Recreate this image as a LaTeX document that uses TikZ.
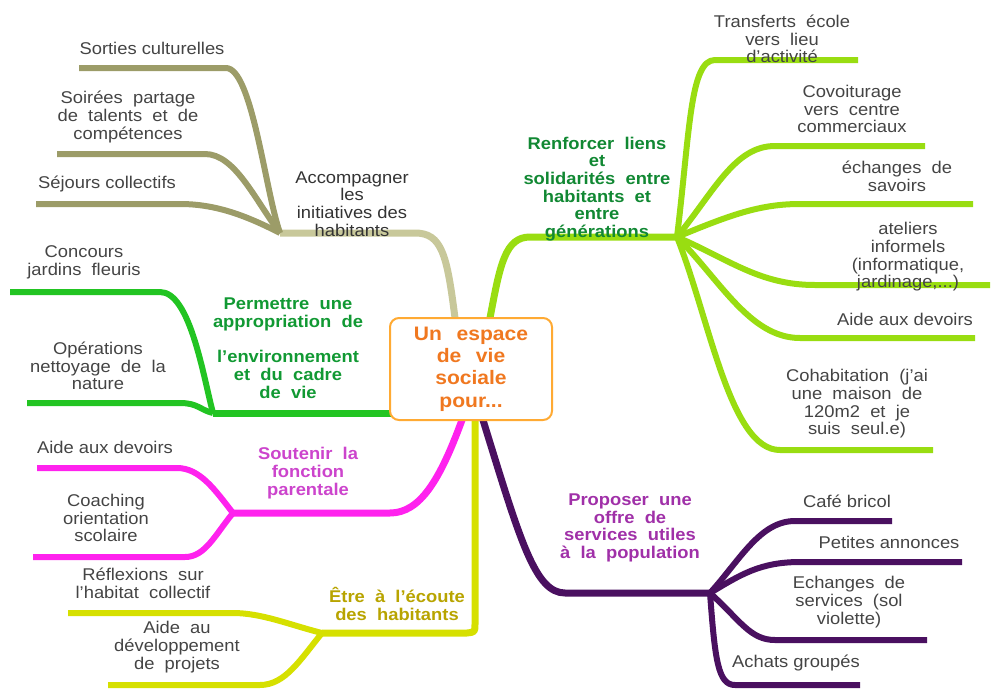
\documentclass[tikz,border=0pt]{standalone}
\usepackage{fontspec}
\setmainfont{Liberation Sans}[FakeStretch=1.08]
\newcommand\wideA{\spaceskip 0.6em\relax}
\newcommand\wideB{\spaceskip 0.75em\relax}
\definecolor{khmain}{HTML}{C8C89A}
\definecolor{khsub}{HTML}{9C9C68}
\definecolor{grline}{HTML}{22C422}
\definecolor{grtext}{HTML}{119933}
\definecolor{mgline}{HTML}{FF22EE}
\definecolor{mgtext}{HTML}{CC44CC}
\definecolor{ylline}{HTML}{D6E000}
\definecolor{yltext}{HTML}{B8A400}
\definecolor{lgline}{HTML}{99DD11}
\definecolor{lgtext}{HTML}{118833}
\definecolor{puline}{HTML}{4A1060}
\definecolor{putext}{HTML}{A030A8}
\definecolor{orbord}{HTML}{FFAA33}
\definecolor{ortext}{HTML}{F07820}
\definecolor{txtgray}{HTML}{444444}
\tikzset{
  leaf/.style={font=\fontsize{17}{17.7}\selectfont, text=txtgray, align=center, inner sep=0pt},
  jw/.style={font=\fontsize{17}{17.7}\selectfont\wideA},
  topic/.style={font=\bfseries\fontsize{17}{17.7}\selectfont\wideA, align=center, inner sep=0pt},
  branch/.style={line width=7pt, line join=round},
  twig/.style={line width=6pt, line join=round},
  centerbox/.style={draw=orbord, line width=2pt, rounded corners=9pt, fill=white,
    minimum width=162pt, minimum height=102pt, text=ortext, align=center,
    font=\bfseries\fontsize{19.5}{22.3}\selectfont\wideB, inner sep=2pt}
}
\begin{document}
\begin{tikzpicture}[x=1pt,y=-1pt]
\useasboundingbox (0,0) rectangle (997,689);

% hubs
\coordinate (kh) at (280,233);
\coordinate (gh) at (213,413);
\coordinate (mh) at (233,513);
\coordinate (yh) at (322,633);
\coordinate (lh) at (677,237);
\coordinate (ph) at (710,593);

% attachment points on the centre box
\coordinate (ka) at (455,318);
\coordinate (ga) at (391,413);
\coordinate (ma) at (462,420);
\coordinate (ya) at (475,420);
\coordinate (la) at (490,318);
\coordinate (pa) at (483,420);

% leaf ends
\coordinate (e1) at (79,68);
\coordinate (e2) at (57,154);
\coordinate (e3) at (36,204);
\coordinate (e4) at (10,292);
\coordinate (e5) at (27,403);
\coordinate (e6) at (37,468);
\coordinate (e7) at (33,557);
\coordinate (e8) at (68,613);
\coordinate (e9) at (108,685);
\coordinate (f1) at (858,60);
\coordinate (f2) at (925,146);
\coordinate (f3) at (973,204);
\coordinate (f4) at (990,285);
\coordinate (f5) at (975,338);
\coordinate (f6) at (933,450);
\coordinate (g1) at (892,521);
\coordinate (g2) at (962,562);
\coordinate (g3) at (927,640);
\coordinate (g4) at (860,685);

% khaki branch
\draw[branch, khmain] (ka) .. controls (447,255) and (442,233) .. (415,233) -- (kh);
\draw[twig, khsub] (kh) .. controls (265,190) and (252,68) .. (226,68) -- (e1);
\draw[twig, khsub] (kh) .. controls (255,200) and (235,154) .. (205,154) -- (e2);
\draw[twig, khsub] (kh) .. controls (245,215) and (215,204) .. (180,204) -- (e3);

% green branch
\draw[branch, grline] (ga) -- (gh);
\draw[twig, grline] (gh) .. controls (203,375) and (190,292) .. (160,292) -- (e4);
\draw[twig, grline] (gh) .. controls (200,410) and (198,403) .. (180,403) -- (e5);

% magenta branch
\draw[branch, mgline] (ma) .. controls (440,480) and (420,513) .. (390,513) -- (mh);
\draw[twig, mgline] (mh) .. controls (215,490) and (200,468) .. (177,468) -- (e6);
\draw[twig, mgline] (mh) .. controls (215,535) and (205,557) .. (185,557) -- (e7);

% yellow branch
\draw[branch, ylline] (ya) -- (475,624) .. controls (475,632) .. (467,633) -- (yh);
\draw[twig, ylline] (yh) .. controls (290,625) and (262,613) .. (233,613) -- (e8);
\draw[twig, ylline] (yh) .. controls (300,660) and (285,685) .. (260,685) -- (e9);

% light green branch
\draw[branch, lgline] (la) .. controls (500,265) and (505,237) .. (530,237) -- (lh);
\draw[twig, lgline] (lh) .. controls (690,130) and (690,60) .. (715,60) -- (f1);
\draw[twig, lgline] (lh) .. controls (715,190) and (735,146) .. (775,146) -- (f2);
\draw[twig, lgline] (lh) .. controls (730,215) and (760,204) .. (800,204) -- (f3);
\draw[twig, lgline] (lh) .. controls (730,260) and (760,285) .. (815,285) -- (f4);
\draw[twig, lgline] (lh) .. controls (720,280) and (750,338) .. (800,338) -- (f5);
\draw[twig, lgline] (lh) .. controls (710,320) and (730,450) .. (780,450) -- (f6);

% purple branch
\draw[branch, puline] (pa) .. controls (520,540) and (535,593) .. (565,593) -- (ph);
\draw[twig, puline] (ph) .. controls (740,560) and (760,521) .. (795,521) -- (g1);
\draw[twig, puline] (ph) .. controls (740,575) and (760,562) .. (800,562) -- (g2);
\draw[twig, puline] (ph) .. controls (740,620) and (750,640) .. (775,640) -- (g3);
\draw[twig, puline] (ph) .. controls (715,660) and (718,685) .. (735,685) -- (g4);

% centre
\node[centerbox] (center) at (471,369) {Un espace\\de vie\\sociale\\pour...};

% topic labels
\node[leaf, text=black!80] (tk) at (352,204) {Accompagner\\les\\initiatives des\\habitants};
\node[topic, text=grtext] (tg) at (288,348) {Permettre une\\appropriation de\\[17.7pt]l'environnement\\et du cadre\\de vie};
\node[topic, text=mgtext] (tm) at (308,473) {Soutenir la\\fonction\\parentale};
\node[topic, text=yltext] (ty) at (397,604) {Être à l'écoute\\des habitants};
\node[topic, text=lgtext] (tl) at (597,189) {Renforcer liens\\et\\solidarités entre\\habitants et\\entre\\générations};
\node[topic, text=putext] (tp) at (630,528) {Proposer une\\offre de\\services utiles\\à la population};

% leaf labels
\node[leaf] (l1) at (152,48) {Sorties culturelles};
\node[leaf, jw] (l2) at (128,117) {Soirées partage\\de talents et de\\compétences};
\node[leaf] (l3) at (107,184) {Séjours collectifs};
\node[leaf, jw] (l4) at (84,262) {Concours\\jardins fleuris};
\node[leaf, jw] (l5) at (98,366) {Opérations\\nettoyage de la\\nature};
\node[leaf] (l6) at (105,447) {Aide aux devoirs};
\node[leaf] (l7) at (106,518) {Coaching\\orientation\\scolaire};
\node[leaf, jw] (l8) at (143,583) {Réflexions sur\\l'habitat collectif};
\node[leaf, jw] (l9) at (177,647) {Aide au\\développement\\de projets};
\node[leaf, jw] (r1) at (782,39) {Transferts école\\vers lieu\\d'activité};
\node[leaf, jw] (r2) at (852,109) {Covoiturage\\vers centre\\commerciaux};
\node[leaf, jw] (r3) at (897,176) {échanges de\\savoirs};
\node[leaf] (r4) at (908,257) {ateliers\\informels\\(informatique,\\jardinage,...)};
\node[leaf] (r5) at (905,319) {Aide aux devoirs};
\node[leaf, jw] (r6) at (857,404) {Cohabitation (j'ai\\une maison de\\120m2 et je\\suis seul.e)};
\node[leaf] (s1) at (847,501) {Café bricol};
\node[leaf] (s2) at (889,542) {Petites annonces};
\node[leaf, jw] (s3) at (849,602) {Echanges de\\services (sol\\violette)};
\node[leaf] (s4) at (796,663) {Achats groupés};
\end{tikzpicture}
\end{document}
